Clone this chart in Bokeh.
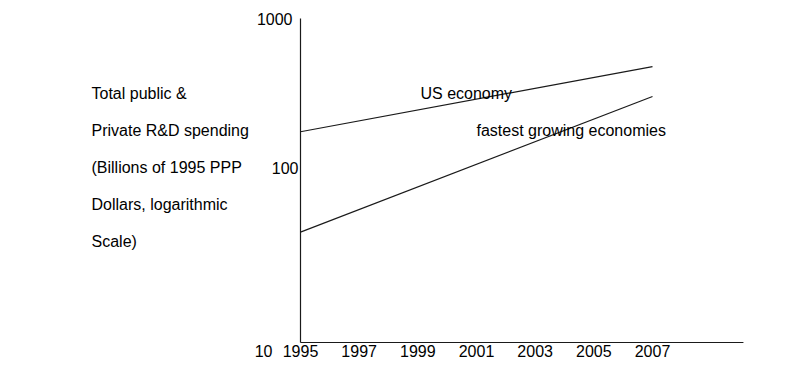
import math
from bokeh.plotting import figure
from bokeh.core.properties import value
from bokeh.embed import file_html
from bokeh.resources import INLINE

# data
years = [1995, 2007]
us_economy = [200, 505]
fastest_growing = [48, 330]
x_ticks = [1995, 1997, 1999, 2001, 2003, 2005, 2007]
x_tick_labels = [str(t) for t in x_ticks]
y_min, y_max = 10, 1000
y_ticks = [1000, 100, 10]
y_tick_labels = ["1000", "100", "10"]
x_axis_end = 2010.1
ylabel_lines = ["Total public &", "Private R&D spending", "(Billions of 1995 PPP",
                "Dollars, logarithmic", "Scale)"]
series_labels = ["US economy", "fastest growing economies"]

FONT = value("Liberation Sans")
FS = "16px"
W, H = 790, 362

# pixel layout of the frame (canvas covers the whole chart)
X0_PX, X1_PX = 300, 652          # where 1995 and 2007 sit
YTOP_PX, YBOT_PX = 18, 342       # where 1000 and 10 sit
k = (X1_PX - X0_PX) / (years[1] - years[0])
dec = (YBOT_PX - YTOP_PX) / (math.log10(y_max) - math.log10(y_min))


def px_x(px):
    return years[0] + (px - X0_PX) / k


def px_y(py):
    return 10 ** (math.log10(y_max) - (py - YTOP_PX) / dec)


p = figure(width=W, height=H, output_backend="svg", toolbar_location=None,
           y_axis_type="log", x_axis_location=None, y_axis_location=None,
           x_range=(px_x(0), px_x(W)), y_range=(px_y(H), px_y(0)),
           min_border=0)
p.outline_line_color = None
p.grid.visible = False

LC = "#1a1a1a"
# axes lines
p.segment(x0=[years[0], years[0]], y0=[y_min, y_min], x1=[years[0], x_axis_end],
          y1=[y_max, y_min], line_color=LC, line_width=1.2)

# series
p.line(years, us_economy, line_color=LC, line_width=1.2)
p.line(years, fastest_growing, line_color=LC, line_width=1.2)

# x tick labels
p.text(x=x_ticks, y=[y_min] * len(x_ticks), text=x_tick_labels, y_offset=8,
       text_align="center", text_baseline="middle", text_font=FONT,
       text_font_size=FS, text_color="black")

# y tick labels (hand-placed in the original)
tick_px = [(292, 18), (298, 167), (272, 350)]
p.text(x=[px_x(a) for a, b in tick_px], y=[px_y(b) for a, b in tick_px],
       text=y_tick_labels, text_align="right", text_baseline="middle",
       text_font=FONT, text_font_size=FS, text_color="black")

# y axis title, one text per line
title_px = [93, 130, 167, 204, 241]
p.text(x=[px_x(91)] * len(ylabel_lines), y=[px_y(b) for b in title_px],
       text=ylabel_lines, text_align="left", text_baseline="middle",
       text_font=FONT, text_font_size=FS, text_color="black")

# series labels
lab_px = [(420, 93), (476, 130)]
p.text(x=[px_x(a) for a, b in lab_px], y=[px_y(b) for a, b in lab_px],
       text=series_labels, text_align="left", text_baseline="middle",
       text_font=FONT, text_font_size=FS, text_color="black")

open("out.html", "w").write(file_html(p, INLINE))
